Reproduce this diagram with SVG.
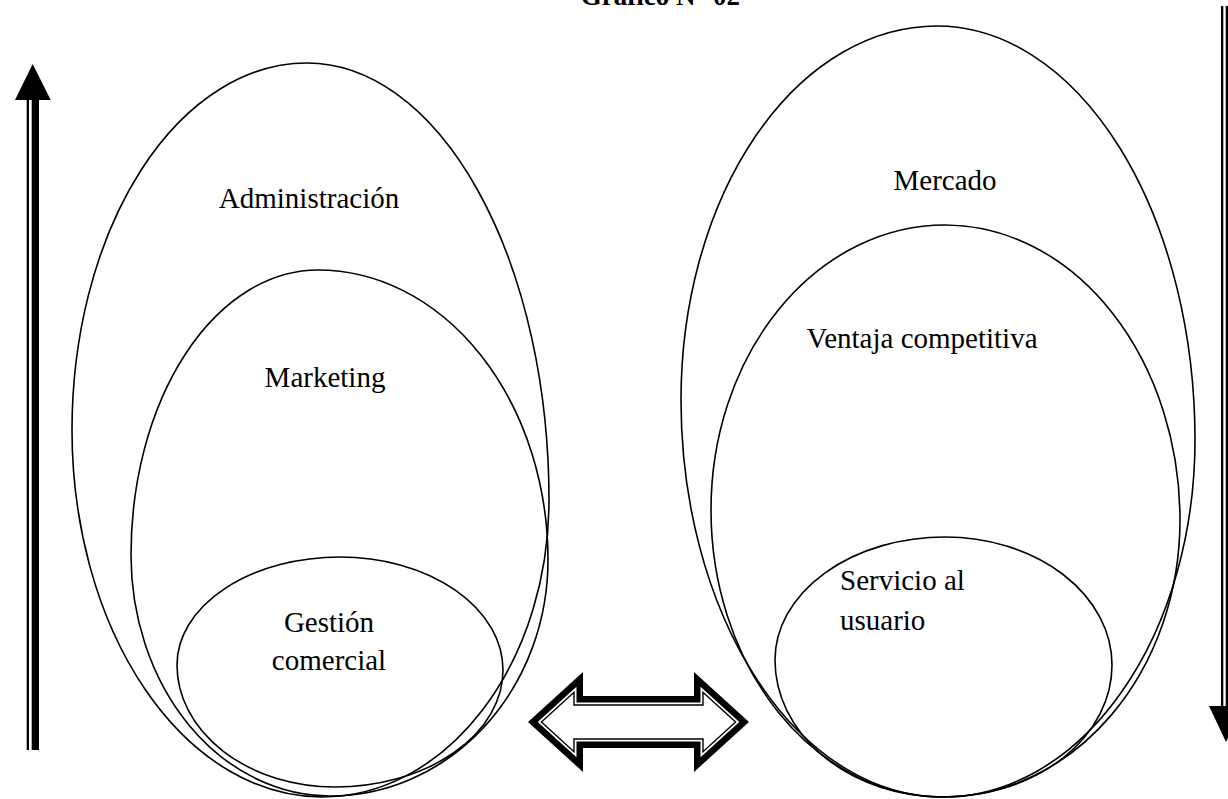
<svg xmlns="http://www.w3.org/2000/svg" width="1228" height="799" viewBox="0 0 1228 799">
  <style>
    .egg { fill: none; stroke: #000; stroke-width: 1.6; }
    .lbl { font-family: "Liberation Serif", "Times New Roman", serif; font-size: 29px; fill: #000; }
    .title { font-family: "Liberation Serif", "Times New Roman", serif; font-size: 27px; font-weight: bold; fill: #000; }
  </style>
  <rect width="1228" height="799" fill="#fff"/>

  <text class="title" x="740" y="5" text-anchor="end">Gráfico N° 02</text>

  <!-- left column: nested ovals -->
  <g id="administracion">
    <path class="egg" d="M307,63 A242,437 0 0 1 549,500 A227,297 0 0 1 322,797 A250,367 0 0 1 72,430 A235,367 0 0 1 307,63 Z"/>
    <text class="lbl" x="309" y="208" text-anchor="middle">Administración</text>
  </g>
  <g id="marketing">
    <path class="egg" d="M318,270 A230,290 0 0 1 548,560 A218,236 0 0 1 330,796 A199,241 0 0 1 131,555 A187,285 0 0 1 318,270 Z"/>
    <text class="lbl" x="325" y="387" text-anchor="middle">Marketing</text>
  </g>
  <g id="gestion">
    <path class="egg" d="M340,557 A163,113 0 0 1 503,670 A168,117 0 0 1 335,787 A158,122 0 0 1 177,665 A163,108 0 0 1 340,557 Z"/>
    <text class="lbl" x="329" y="632" text-anchor="middle">Gestión</text>
    <text class="lbl" x="329" y="670" text-anchor="middle">comercial</text>
  </g>

  <!-- right column: nested ovals -->
  <g id="mercado">
    <path class="egg" d="M937,26 A258,414 0 0 1 1195,440 A252,357 0 0 1 943,797 A262,397 0 0 1 681,400 A256,374 0 0 1 937,26 Z"/>
    <text class="lbl" x="945" y="190" text-anchor="middle">Mercado</text>
  </g>
  <g id="ventaja">
    <path class="egg" d="M945,225 A235,295 0 0 1 1180,520 A237,277 0 0 1 943,797 A232,287 0 0 1 711,510 A234,285 0 0 1 945,225 Z"/>
    <text class="lbl" x="922" y="348" text-anchor="middle">Ventaja competitiva</text>
  </g>
  <g id="servicio">
    <path class="egg" d="M945,537 A167,128 0 0 1 1112,665 A169,132 0 0 1 943,797 A168,137 0 0 1 775,660 A170,123 0 0 1 945,537 Z"/>
    <text class="lbl" x="840" y="590">Servicio al</text>
    <text class="lbl" x="840" y="630">usuario</text>
  </g>

  <!-- connectors -->
  <g id="connectors">
    <!-- upward arrow on the left -->
    <rect x="26.7" y="99" width="2.3" height="651" fill="#000"/>
    <rect x="31.7" y="99" width="7.3" height="651" fill="#000"/>
    <polygon points="32.7,64 15,100 50.7,100" fill="#000"/>

    <!-- downward arrow on the right -->
    <rect x="1221" y="6" width="2.3" height="701" fill="#000"/>
    <rect x="1225.7" y="6" width="7.3" height="701" fill="#000"/>
    <polygon points="1209,706 1243,706 1226,742" fill="#000"/>

    <!-- double-headed outlined arrow -->
    <polygon points="528,722 583,672 583,696 694,696 694,672 749,722 694,772 694,748 583,748 583,772" fill="#000"/>
    <polygon points="537.7,722 576.5,686.7 576.5,702.5 700.5,702.5 700.5,686.7 739.3,722 700.5,757.3 700.5,741.5 576.5,741.5 576.5,757.3" fill="#fff"/>
    <polygon points="541.4,722 574,692.3 574,705 703,705 703,692.3 735.6,722 703,751.7 703,739 574,739 574,751.7" fill="#fff" stroke="#000" stroke-width="1.4"/>
  </g>
</svg>
